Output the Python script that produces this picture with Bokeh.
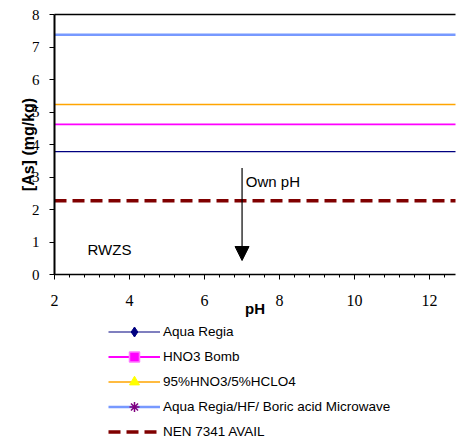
from bokeh.plotting import figure
from bokeh.layouts import column
from bokeh.models import (Range1d, LinearAxis, FixedTicker, Legend, LegendItem,
                          Arrow, NormalHead, Label, ColumnDataSource)
from bokeh.embed import file_html
from bokeh.resources import INLINE

# ---- data ----
ph_span = [2, 13]
series_names = ["Aqua Regia", "HNO3 Bomb", "95%HNO3/5%HCLO4",
                "Aqua Regia/HF/ Boric acid Microwave", "NEN 7341 AVAIL"]
as_levels = [3.78, 4.62, 5.23, 7.38, 2.27]
x_ticks = [2, 4, 6, 8, 10, 12]
y_ticks = [0, 1, 2, 3, 4, 5, 6, 7, 8]
own_ph = 7
arrow_from = 3.28
arrow_to = 0.43
own_ph_label = "Own pH"
own_ph_label_pos = (7.1, 2.87)
rwzs_label = "RWZS"
rwzs_label_pos = (2.88, 0.77)

line_colors = ["#000080", "#ff00ff", "#ffa500", "#7799ff", "#800000"]
line_widths = [1.2, 1.8, 1.5, 2.5, 3.5]
line_dashes = ["solid", "solid", "solid", "solid", "12 6"]

SERIF = "'Liberation Serif', 'Times New Roman', serif"
SANS = "'Liberation Sans', Arial, sans-serif"

MAIN_H = 320
p = figure(width=456, height=MAIN_H, output_backend="svg", toolbar_location=None,
           x_range=Range1d(2, 12.69), y_range=Range1d(0, 8),
           min_border_left=54, min_border_right=1, min_border_top=14,
           min_border_bottom=46)
p.outline_line_color = None
p.grid.visible = False
p.background_fill_color = "white"
p.border_fill_color = "white"

# axes styling
xa = p.xaxis[0]
xa.ticker = FixedTicker(ticks=x_ticks,
                        minor_ticks=[2 + 0.4 * i for i in range(0, 27)])
xa.axis_line_color = "black"
xa.axis_line_width = 1.5
xa.major_tick_out = 5
xa.major_tick_in = 0
xa.minor_tick_out = 3
xa.minor_tick_in = 0
xa.major_label_text_font = SERIF
xa.major_label_text_font_size = "16px"
xa.major_label_text_color = "black"
xa.major_label_standoff = 15
xa.axis_label = "pH"
xa.axis_label_text_font = SANS
xa.axis_label_text_font_style = "bold"
xa.axis_label_text_font_size = "15px"
xa.axis_label_text_color = "black"
xa.axis_label_standoff = -9

ya = p.yaxis[0]
ya.ticker = FixedTicker(ticks=y_ticks)
ya.axis_line_color = "black"
ya.axis_line_width = 2
ya.major_tick_out = 5
ya.major_tick_in = 0
ya.minor_tick_out = 0
ya.minor_tick_in = 0
ya.major_label_text_font = SERIF
ya.major_label_text_font_size = "15px"
ya.major_label_text_color = "black"
ya.major_label_standoff = 10
ya.axis_label = "[As] (mg/kg)"
ya.axis_label_text_font = SANS
ya.axis_label_text_font_style = "bold"
ya.axis_label_text_font_size = "16px"
ya.axis_label_text_color = "black"
ya.axis_label_standoff = -8

top = LinearAxis(ticker=FixedTicker(ticks=[]), axis_line_color="black",
                 axis_line_width=1.5, major_tick_out=0, major_tick_in=0,
                 minor_tick_out=0, minor_tick_in=0,
                 major_label_text_font_size="0px")
p.add_layout(top, "above")

# horizontal series lines
for lvl, col, lw, dash in zip(as_levels, line_colors, line_widths, line_dashes):
    src = ColumnDataSource(dict(x=ph_span, y=[lvl] * len(ph_span)))
    p.line("x", "y", source=src, line_color=col, line_width=lw, line_dash=dash)

# arrow and labels
p.add_layout(Arrow(end=NormalHead(size=14, fill_color="black", line_color="black"),
                   x_start=own_ph, y_start=arrow_from, x_end=own_ph, y_end=arrow_to,
                   line_color="black", line_width=1.2))
p.add_layout(Label(x=own_ph_label_pos[0], y=own_ph_label_pos[1], text=own_ph_label,
                   text_font=SANS, text_font_size="15px",
                   text_baseline="middle", text_color="black"))
p.add_layout(Label(x=rwzs_label_pos[0], y=rwzs_label_pos[1], text=rwzs_label,
                   text_font=SANS, text_font_size="15px",
                   text_baseline="middle", text_color="black"))

# ---- legend panel (separate figure below the chart) ----
leg = figure(width=456, height=441 - MAIN_H, output_backend="svg",
             toolbar_location=None, x_axis_location=None, y_axis_location=None,
             x_range=Range1d(0, 1), y_range=Range1d(0, 1),
             min_border=0)
leg.outline_line_color = None
leg.grid.visible = False


def placeholder():
    # a single undefined point: nothing is drawn in the panel, only the legend glyph
    return ColumnDataSource(dict(x=[float("nan")], y=[float("nan")]))


marker_specs = [
    dict(marker="diamond", fill_color="#000080", line_color="#000080"),
    dict(marker="square", fill_color="#ff00ff", line_color="#ff77ff",
         line_width=1.5),
    dict(marker="triangle", fill_color="#ffff00", line_color="#ffff00"),
    dict(marker="asterisk", line_color="#800080", line_width=1.5),
    None,
]

items = []
for name, col, lw, dash, mk in zip(series_names, line_colors, line_widths,
                                   line_dashes, marker_specs):
    rs = [leg.line("x", "y", source=placeholder(), line_color=col,
                   line_width=lw, line_dash=dash)]
    if mk is not None:
        rs.append(leg.scatter("x", "y", source=placeholder(), **mk))
    items.append(LegendItem(label=name, renderers=rs))

legend = Legend(items=items, location=(54, -3), orientation="vertical",
                glyph_width=52, glyph_height=25, label_height=25,
                spacing=0, padding=0, margin=0, label_standoff=3,
                label_text_font=SANS, label_text_font_size="13.5px",
                label_text_color="black",
                border_line_color=None, background_fill_alpha=0)
leg.add_layout(legend, "center")

layout = column(p, leg, spacing=0)
open("out.html", "w").write(file_html(layout, INLINE))
